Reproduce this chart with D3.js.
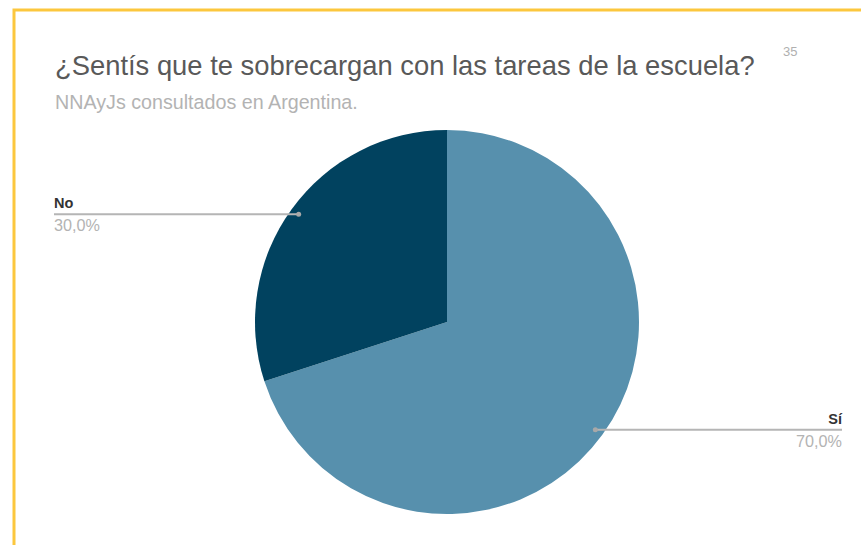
<!DOCTYPE html>
<html><head><meta charset="utf-8">
<script src="https://cdn.jsdelivr.net/npm/d3@7"></script>
<style>html,body{margin:0;padding:0;background:#fff;}</style>
</head><body>
<svg id="chart" width="861" height="545"></svg>
<script>
const categories = ["Sí", "No"];
const values = [70, 30];
const valueLabels = ["70,0%", "30,0%"];
const colors = ["#5790ad", "#01425f"];
const title = "¿Sentís que te sobrecargan con las tareas de la escuela?";
const subtitle = "NNAyJs consultados en Argentina.";
const pageNumber = "35";

const svg = d3.select("#chart");
const FONT = "'Liberation Sans', Arial, sans-serif";
// page border
svg.append("rect").attr("x", 14).attr("y", 10).attr("width", 900).attr("height", 600)
  .attr("fill", "none").attr("stroke", "#fcc73e").attr("stroke-width", 3);

function fit(sel, target) {
  const w = sel.node().getComputedTextLength();
  const fs = +sel.attr("font-size");
  sel.attr("font-size", fs * target / w);
}
const t = svg.append("text").attr("x", 55).attr("y", 75).text(title)
  .attr("font-family", FONT).attr("font-size", 26).attr("fill", "#595959");
fit(t, 700);
const s = svg.append("text").attr("x", 55).attr("y", 109).text(subtitle)
  .attr("font-family", FONT).attr("font-size", 16).attr("fill", "#b3b3b3");
fit(s, 303);
svg.append("text").attr("x", 783).attr("y", 56).text(pageNumber)
  .attr("font-family", FONT).attr("font-size", 13).attr("fill", "#b0b0b0");

const cx = 447, cy = 322, R = 192;
const pie = d3.pie().sort(null).value(d => d.v);
const data = categories.map((c, i) => ({c, v: values[i], l: valueLabels[i], col: colors[i]}));
const arcs = pie(data);
const arc = d3.arc().innerRadius(0).outerRadius(R);
const g = svg.append("g").attr("transform", `translate(${cx},${cy})`);
g.selectAll("path").data(arcs).join("path").attr("d", arc).attr("fill", d => d.data.col);

const dotArc = d3.arc().innerRadius(R * 0.955).outerRadius(R * 0.955);
arcs.forEach(a => {
  const [px, py] = dotArc.centroid(a);
  const right = px > 0;
  const endX = right ? 842 - cx : 54 - cx;
  g.append("line").attr("x1", px).attr("y1", py).attr("x2", endX).attr("y2", py)
    .attr("stroke", "#b5b5b5").attr("stroke-width", 2);
  g.append("circle").attr("cx", px).attr("cy", py).attr("r", 2.5).attr("fill", "#a8a8a8");
  g.append("text").attr("x", endX).attr("y", py - 6).text(a.data.c)
    .attr("text-anchor", right ? "end" : "start")
    .attr("font-family", FONT).attr("font-size", 14.5).attr("font-weight", "bold").attr("fill", "#333");
  const vl = g.append("text").attr("x", endX).attr("y", py + 17).text(a.data.l)
    .attr("text-anchor", right ? "end" : "start")
    .attr("font-family", FONT).attr("font-size", 14.5).attr("fill", "#b3b3b3");
  fit(vl, 46);
});
</script>
</body></html>
